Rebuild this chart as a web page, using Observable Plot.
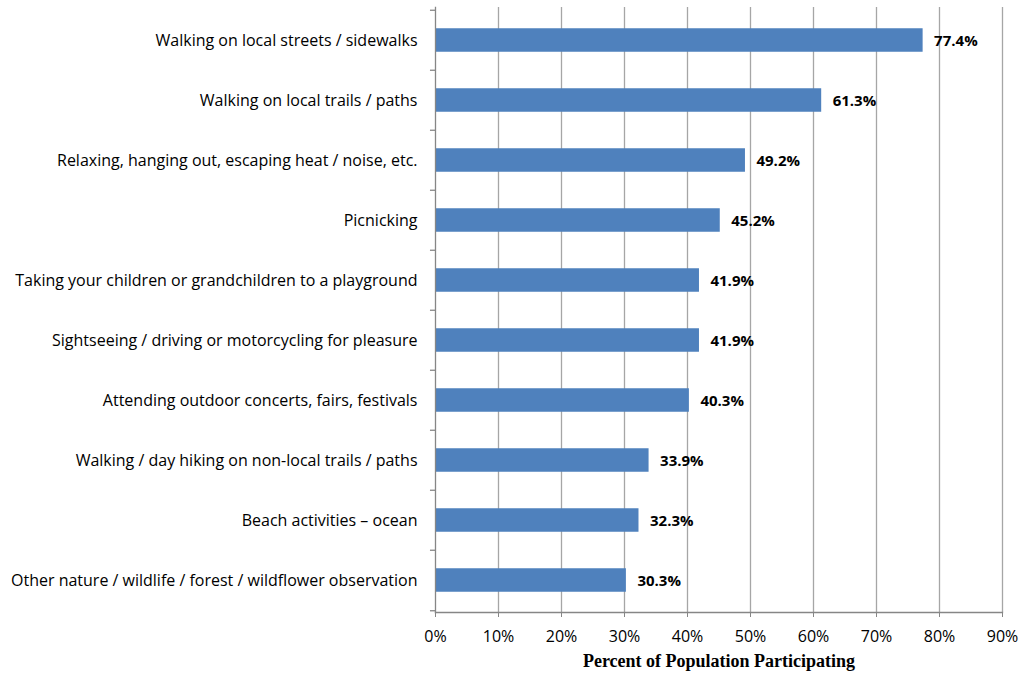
<!DOCTYPE html>
<html>
<head>
<meta charset="utf-8">
<script src="https://cdn.jsdelivr.net/npm/d3@7"></script>
<script src="https://cdn.jsdelivr.net/npm/@observablehq/plot@0.6"></script>
<style>
  html, body { margin: 0; padding: 0; background: #fff; }
  #chart svg { display: block; }
</style>
</head>
<body>
<div id="chart"></div>
<script>
const categories = [
  "Walking on local streets / sidewalks",
  "Walking on local trails / paths",
  "Relaxing, hanging out, escaping heat / noise, etc.",
  "Picnicking",
  "Taking your children or grandchildren to a playground",
  "Sightseeing / driving or motorcycling for pleasure",
  "Attending outdoor concerts, fairs, festivals",
  "Walking / day hiking on non-local trails / paths",
  "Beach activities \u2013 ocean",
  "Other nature / wildlife / forest / wildflower observation"
];
const values = [77.4, 61.3, 49.2, 45.2, 41.9, 41.9, 40.3, 33.9, 32.3, 30.3];
const xTicks = [0, 10, 20, 30, 40, 50, 60, 70, 80, 90];
const axisTitle = "Percent of Population Participating";

const data = categories.map((c, i) => ({category: c, value: values[i]}));

const W = 1022, H = 674;
const mTop = 7, mBottom = 62, mLeft = 435, mRight = 20;
const band = (H - mTop - mBottom) / categories.length;
const barH = 24;
const inset = (band - barH) / 2;
const gridColor = "#a6a6a6";
const axisColor = "#868686";
const font = "'Open Sans', Lato, sans-serif";

const chart = Plot.plot({
  width: W,
  height: H,
  marginTop: mTop,
  marginBottom: mBottom,
  marginLeft: mLeft,
  marginRight: mRight,
  style: {fontFamily: font, fontSize: "16px", color: "#000", background: "#fff"},
  x: {domain: [0, 90], ticks: xTicks, label: null},
  y: {domain: categories, paddingInner: 0, paddingOuter: 0, label: null},
  marks: [
    Plot.gridX(xTicks.slice(1), {stroke: gridColor, strokeOpacity: 1, strokeWidth: 1.3}),
    Plot.barX(data, {x: "value", y: "category", fill: "#4f81bd", insetTop: inset, insetBottom: inset}),
    Plot.text(data, {x: "value", y: "category", text: d => d.value.toFixed(1) + "%", textAnchor: "start", dx: 11, dy: 1, fontWeight: "bold", fontSize: 15, fill: "#000"}),
    Plot.axisX(xTicks, {tickFormat: d => d + "%", tickSize: 5, tickPadding: 13, stroke: axisColor, fill: "#000", fontSize: 16, label: null}),
    Plot.axisY({tickSize: 0, tickPadding: 18, fill: "#000", fontSize: 16, label: null}),
    Plot.ruleY(categories, {y: d => d, x1: -0.8, x2: 0, dy: -band / 2, stroke: axisColor, strokeWidth: 1.3}),
    Plot.ruleY([categories[categories.length - 1]], {y: d => d, x1: -0.8, x2: 0, dy: band / 2, stroke: axisColor, strokeWidth: 1.3}),
    Plot.frame({anchor: "bottom", stroke: axisColor, strokeWidth: 1.3}),
    Plot.frame({anchor: "left", stroke: axisColor, strokeWidth: 1.3}),
    Plot.text([axisTitle], {frameAnchor: "bottom", dy: 54, fontFamily: "'Liberation Serif', 'Times New Roman', serif", fontWeight: "bold", fontSize: 18, fill: "#000"})
  ]
});
document.getElementById("chart").appendChild(chart);
</script>
</body>
</html>
